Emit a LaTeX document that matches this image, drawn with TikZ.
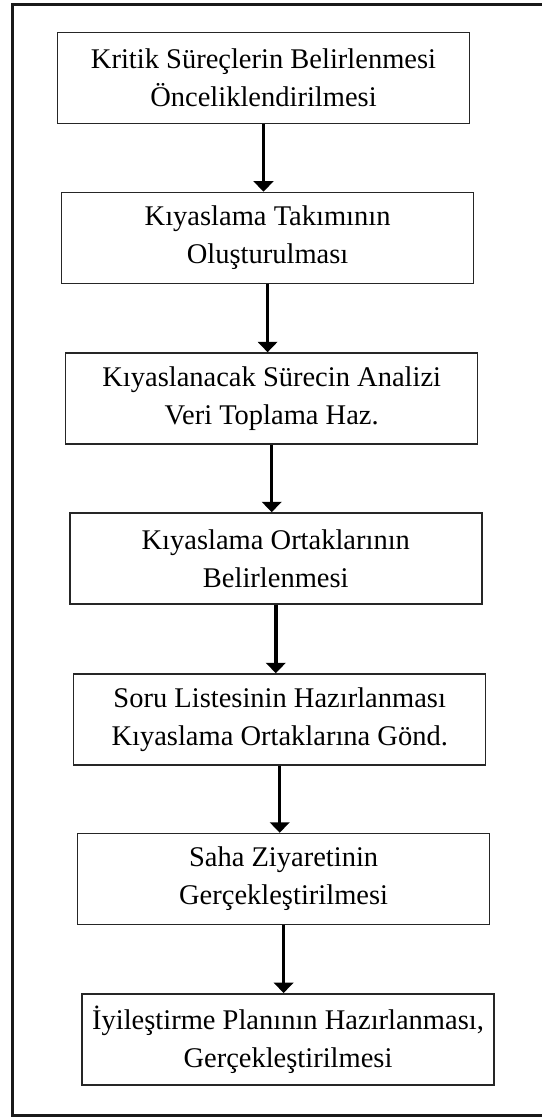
\documentclass[tikz,border=0pt]{standalone}
\usepackage{fontspec}
\setmainfont{Liberation Serif}
\usetikzlibrary{arrows.meta}

\begin{document}
\begin{tikzpicture}[x=1pt,y=-1pt,
  stepbox/.style={draw=black!85, line width=1.5pt, minimum width=412pt, minimum height=91pt,
    inner sep=0pt, align=center, font=\fontsize{28.5}{38}\selectfont},
  flow/.style={line width=3.5pt, draw=black, -{Triangle[width=19.5pt,length=10.5pt]}}]
  \useasboundingbox (0,0) rectangle (541,1118);
  \fill[white] (0,0) rectangle (541,1118);

  % frame, open to the right edge
  \draw[line width=3pt, black!90] (560,4.5) -- (12.4,4.5) -- (12.4,1115.5) -- (560,1115.5);

  % process steps
  \node[stepbox] (s1) at (263.5,  77.8) {Kritik Süreçlerin Belirlenmesi\\Önceliklendirilmesi};
  \node[stepbox] (s2) at (267.6, 238.0) {Kıyaslama Takımının\\Oluşturulması};
  \node[stepbox] (s3) at (271.7, 398.5) {Kıyaslanacak Sürecin Analizi\\Veri Toplama Haz.};
  \node[stepbox] (s4) at (275.8, 558.5) {Kıyaslama Ortaklarının\\Belirlenmesi};
  \node[stepbox] (s5) at (279.7, 719.5) {Soru Listesinin Hazırlanması\\Kıyaslama Ortaklarına Gönd.};
  \node[stepbox] (s6) at (283.6, 879.0) {Saha Ziyaretinin\\Gerçekleştirilmesi};
  \node[stepbox] (s7) at (288.0,1039.3) {İyileştirme Planının Hazırlanması,\\Gerçekleştirilmesi};

  % connectors
  \foreach \a/\b in {s1/s2,s2/s3,s3/s4,s4/s5,s5/s6,s6/s7}
    \draw[flow] (\a.south) -- (\a.south |- \b.north);
\end{tikzpicture}
\end{document}
